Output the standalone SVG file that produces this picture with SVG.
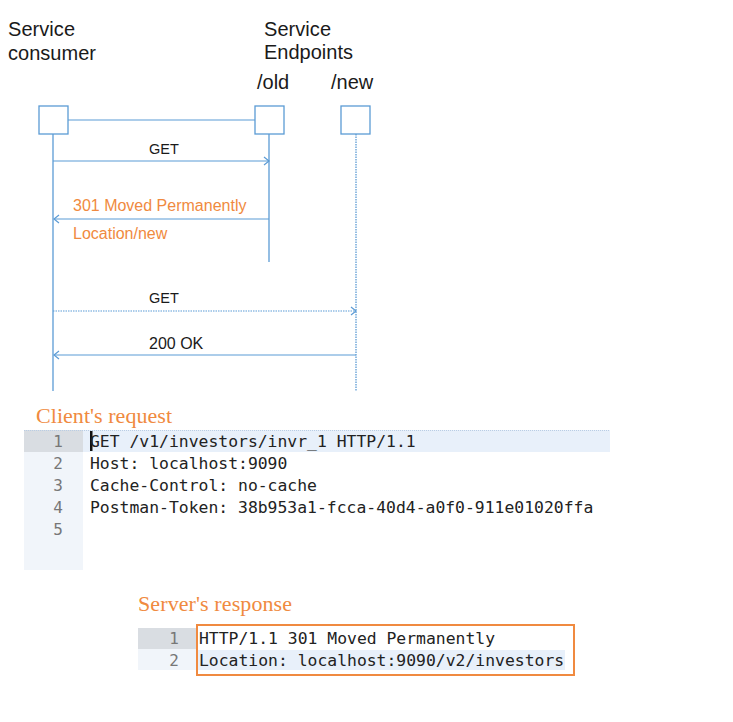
<svg xmlns="http://www.w3.org/2000/svg" width="733" height="722" viewBox="0 0 733 722">
<style>
.hd{font-family:"Liberation Sans",Arial,sans-serif;font-size:20px;fill:#1a1a1a}
.lbl{font-family:"Liberation Sans",Arial,sans-serif;font-size:16px;fill:#1a1a1a}
.olbl{font-family:"Liberation Sans",Arial,sans-serif;font-size:16px;fill:#f08a40}
.ttl{font-family:"Liberation Serif","Times New Roman",serif;font-size:22px;fill:#f08a40}
.code{font-family:"DejaVu Sans Mono","Liberation Mono",monospace;font-size:16.4px;fill:#222}
.num{font-family:"DejaVu Sans Mono","Liberation Mono",monospace;font-size:16px;fill:#777;text-anchor:end}
.box{fill:#fff;stroke:#5b9bd5;stroke-width:1.3}
.life{stroke:#5b9bd5;stroke-width:1.3;fill:none}
.msg{stroke:#5b9bd5;stroke-width:1.2;fill:none}
</style>
<defs>
<marker id="ah" markerWidth="10" markerHeight="10" refX="8" refY="5" orient="auto" markerUnits="userSpaceOnUse">
<path d="M3,1 L8,5 L3,9" fill="none" stroke="#5b9bd5" stroke-width="1.2"/>
</marker>
</defs>
<rect width="733" height="722" fill="#fff"/>
<g id="consumer">
<text class="hd" x="8" y="36" textLength="67">Service</text>
<text class="hd" x="8" y="60" textLength="88">consumer</text>
<line class="life" x1="53" y1="134" x2="53" y2="391"/>
<rect class="box" x="39" y="106" width="29" height="28"/>
</g>
<g id="endpoints">
<text class="hd" x="264" y="36" textLength="67">Service</text>
<text class="hd" x="264" y="59" textLength="89">Endpoints</text>
</g>
<g id="old">
<text class="hd" x="257" y="89">/old</text>
<line class="life" x1="269" y1="134" x2="269" y2="262"/>
<rect class="box" x="255" y="106" width="29" height="28"/>
</g>
<g id="new">
<text class="hd" x="331" y="89">/new</text>
<line class="life" x1="356" y1="134" x2="356" y2="391" stroke-dasharray="1.5 1"/>
<rect class="box" x="341" y="106" width="29" height="28"/>
</g>
<g id="connectors">
<line class="msg" x1="68" y1="120" x2="255" y2="120"/>
<line class="msg" x1="53" y1="161" x2="269" y2="161" marker-end="url(#ah)"/>
<text class="lbl" x="149" y="154" style="font-size:14.5px">GET</text>
<line class="msg" x1="269" y1="219" x2="54" y2="219" marker-end="url(#ah)"/>
<text class="olbl" x="73" y="211">301 Moved Permanently</text>
<text class="olbl" x="73" y="239">Location/new</text>
<line class="msg" x1="53" y1="311" x2="356" y2="311" stroke-dasharray="1.5 1" marker-end="url(#ah)"/>
<text class="lbl" x="149" y="303" style="font-size:14.5px">GET</text>
<line class="msg" x1="356" y1="355" x2="54" y2="355" marker-end="url(#ah)"/>
<text class="lbl" x="149" y="349">200 OK</text>
</g>
<g id="client-request">
<text class="ttl" x="36" y="423" textLength="136">Client's request</text>
<rect x="24" y="430" width="59" height="140" fill="#f1f5fa"/>
<rect x="24" y="430" width="59" height="22" fill="#d9dde2"/>
<rect x="83" y="430" width="527" height="22" fill="#e8f0fa"/>
<line x1="24" y1="430.5" x2="610" y2="430.5" stroke="#b9cde4" stroke-width="1" stroke-dasharray="1 1"/>
<rect x="90" y="431" width="2.5" height="20" fill="#111"/>
<text class="num" x="63" y="447">1</text>
<text class="num" x="63" y="469">2</text>
<text class="num" x="63" y="491">3</text>
<text class="num" x="63" y="513">4</text>
<text class="num" x="63" y="535">5</text>
<text class="code" x="90" y="447">GET /v1/investors/invr_1 HTTP/1.1</text>
<text class="code" x="90" y="469">Host: localhost:9090</text>
<text class="code" x="90" y="491">Cache-Control: no-cache</text>
<text class="code" x="90" y="513">Postman-Token: 38b953a1-fcca-40d4-a0f0-911e01020ffa</text>
</g>
<g id="server-response">
<text class="ttl" x="138" y="611" textLength="154">Server's response</text>
<rect x="138" y="628" width="58" height="42" fill="#f1f5fa"/>
<rect x="138" y="628" width="58" height="21" fill="#d9dde2"/>
<rect x="197" y="650" width="368" height="20" fill="#e8f0fa"/>
<text class="num" x="179" y="644">1</text>
<text class="num" x="179" y="666">2</text>
<text class="code" x="199" y="644">HTTP/1.1 301 Moved Permanently</text>
<text class="code" x="199" y="666">Location: localhost:9090/v2/investors</text>
<rect x="197" y="625" width="377" height="50" fill="none" stroke="#f08a40" stroke-width="2"/>
</g>
</svg>
